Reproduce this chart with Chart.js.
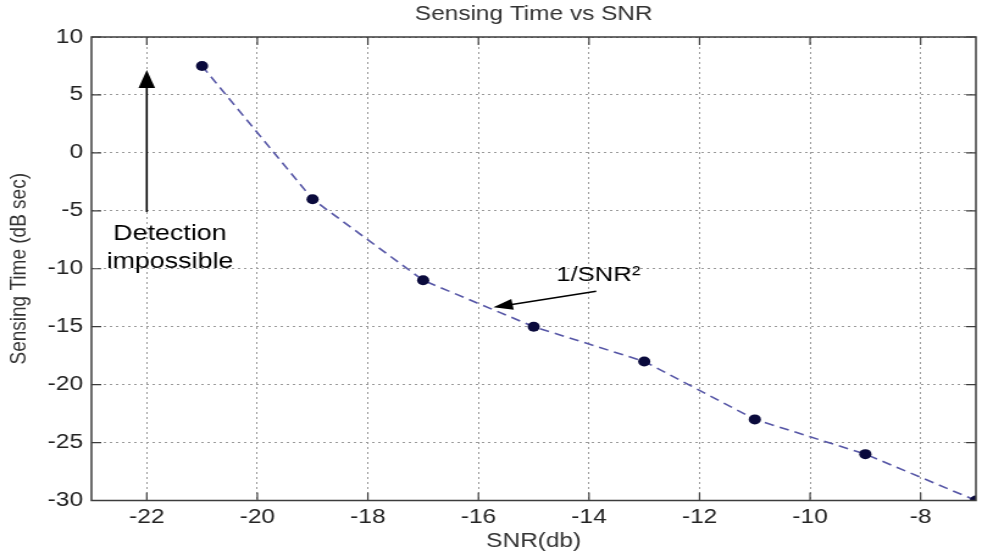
<!DOCTYPE html>
<html>
<head>
<meta charset="utf-8">
<script src="https://cdn.jsdelivr.net/npm/chart.js@4.4.0/dist/chart.umd.min.js"></script>
<style>
  html, body { margin: 0; padding: 0; background: #fff; overflow: hidden; }
</style>
</head>
<body>
<!-- the source figure is stretched sideways, so the canvas is drawn narrower and widened by css -->
<canvas id="chart" width="805" height="554" style="display:block;width:982px;height:554px"></canvas>
<script>
const snr = [-21, -19, -17, -15, -13, -11, -9, -7];
const sensingTime = [7.5, -4, -11, -15, -18, -23, -26, -30];
const xTicks = [-22, -20, -18, -16, -14, -12, -10, -8];
const yTicks = [-30, -25, -20, -15, -10, -5, 0, 5, 10];

const FONT = "'Liberation Sans', Arial, sans-serif";

function arrow(ctx, x1, y1, x2, y2, len, half) {
  const a = Math.atan2(y2 - y1, x2 - x1);
  const c = Math.cos(a), s = Math.sin(a);
  ctx.beginPath();
  ctx.moveTo(x1, y1);
  ctx.lineTo(x2 - c * len * 0.8, y2 - s * len * 0.8);
  ctx.stroke();
  ctx.beginPath();
  ctx.moveTo(x2, y2);
  ctx.lineTo(x2 - c * len + s * half, y2 - s * len - c * half);
  ctx.lineTo(x2 - c * len - s * half, y2 - s * len + c * half);
  ctx.closePath();
  ctx.fill();
}

const matlabFrame = {
  id: "matlabFrame",
  afterDraw(chart) {
    const { ctx, chartArea: a, scales: { x, y } } = chart;
    ctx.save();
    ctx.strokeStyle = "#3c3c3c";
    ctx.lineWidth = 1.5;
    ctx.strokeRect(a.left, a.top, a.right - a.left, a.bottom - a.top);
    ctx.lineWidth = 1.2;
    ctx.beginPath();
    xTicks.forEach((v) => {
      const px = x.getPixelForValue(v);
      ctx.moveTo(px, a.bottom);
      ctx.lineTo(px, a.bottom - 8);
      ctx.moveTo(px, a.top);
      ctx.lineTo(px, a.top + 8);
    });
    yTicks.forEach((v) => {
      const py = y.getPixelForValue(v);
      ctx.moveTo(a.left, py);
      ctx.lineTo(a.left + 8, py);
      ctx.moveTo(a.right, py);
      ctx.lineTo(a.right - 8, py);
    });
    ctx.stroke();
    ctx.restore();
  },
};

const notes = {
  id: "notes",
  afterDatasetsDraw(chart) {
    const { ctx, scales: { x, y } } = chart;
    ctx.save();
    ctx.strokeStyle = "#000";
    ctx.fillStyle = "#000";
    ctx.lineWidth = 1.6;
    arrow(ctx, x.getPixelForValue(-22), y.getPixelForValue(-5.1),
      x.getPixelForValue(-22), y.getPixelForValue(7.15), 18, 6.8);
    arrow(ctx, x.getPixelForValue(-13.87), y.getPixelForValue(-11.94),
      x.getPixelForValue(-15.73), y.getPixelForValue(-13.33), 16, 5.5);

    ctx.font = "22px " + FONT;
    ctx.textAlign = "center";
    ctx.textBaseline = "middle";
    ctx.fillText("Detection", x.getPixelForValue(-21.58), y.getPixelForValue(-7.0));
    ctx.fillText("impossible", x.getPixelForValue(-21.58), y.getPixelForValue(-9.4));
    ctx.font = "21px " + FONT;
    ctx.textAlign = "left";
    ctx.fillText("1/SNR\u00b2", x.getPixelForValue(-14.59), y.getPixelForValue(-10.56));
    ctx.restore();
  },
};

const chart = new Chart(document.getElementById("chart"), {
  type: "line",
  data: {
    labels: snr,
    datasets: [
      {
        data: snr.map((v, i) => ({ x: v, y: sensingTime[i] })),
        borderColor: "#5656a6",
        borderWidth: 1.6,
        borderDash: [8, 5],
        pointRadius: 5,
        pointBackgroundColor: "#0a0a3c",
        pointBorderWidth: 0,
        tension: 0,
      },
    ],
  },
  options: {
    responsive: false,
    devicePixelRatio: 1,
    animation: false,
    layout: { padding: { left: 0, right: 2, top: 0, bottom: 0 } },
    plugins: {
      legend: { display: false },
      tooltip: { enabled: false },
      title: {
        display: true,
        fullSize: false,
        text: "Sensing Time vs SNR",
        color: "#333",
        font: { family: FONT, size: 20, weight: "normal" },
        padding: { top: 2, bottom: 11 },
      },
    },
    scales: {
      x: {
        type: "linear",
        min: -23,
        max: -7,
        afterBuildTicks: (axis) => {
          axis.ticks = xTicks.map((v) => ({ value: v }));
        },
        afterFit: (axis) => {
          axis.height = 53.5;
        },
        ticks: {
          padding: 5,
          color: "#222",
          font: { family: FONT, size: 20 },
        },
        grid: { color: "#9a9a9a", lineWidth: 1, drawTicks: false },
        border: { display: false, dash: [2, 3] },
        title: {
          display: true,
          text: "SNR(db)",
          color: "#333",
          font: { family: FONT, size: 20 },
          padding: { bottom: 1 },
        },
      },
      y: {
        type: "linear",
        min: -30,
        max: 10,
        afterBuildTicks: (axis) => {
          axis.ticks = yTicks.map((v) => ({ value: v }));
        },
        afterFit: (axis) => {
          axis.width = 75;
        },
        ticks: {
          padding: 7,
          color: "#222",
          font: { family: FONT, size: 20 },
        },
        grid: { color: "#9a9a9a", lineWidth: 1, drawTicks: false },
        border: { display: false, dash: [2, 3] },
        title: {
          display: true,
          text: "Sensing Time (dB sec)",
          color: "#333",
          font: { family: FONT, size: 19 },
          padding: { top: 4 },
        },
      },
    },
  },
  plugins: [notes, matlabFrame],
});
</script>
</body>
</html>
